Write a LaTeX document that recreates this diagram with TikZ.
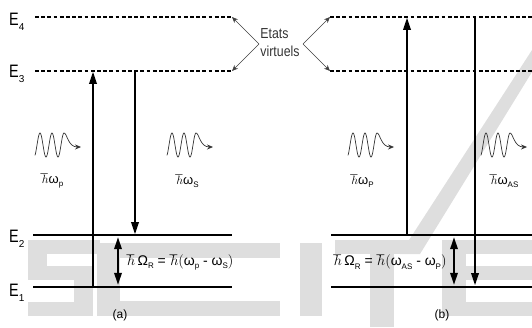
\documentclass[tikz,border=0pt]{standalone}
\usepackage{fontspec}
\setmainfont{Liberation Sans}
\usetikzlibrary{arrows.meta}
\definecolor{wm}{gray}{0.87}
\newcommand{\lo}[1]{\raisebox{-0.45ex}{\fontsize{8}{8}\selectfont #1}}
\newcommand{\elab}[2]{\scalebox{0.8}[1]{\fontsize{18}{18}\selectfont E}\raisebox{-5pt}{\fontsize{10}{10}\selectfont #2}}
\begin{document}
\begin{tikzpicture}[x=1pt,y=-1pt,
  level/.style={line width=2.5pt},
  vlevel/.style={line width=2.5pt, dash pattern=on 3.8pt off 2.4pt},
  trans/.style={line width=1.8pt, -{Triangle[length=12pt,width=7.5pt]}, shorten >=0.8pt},
  dbl/.style={line width=1.8pt, {Triangle[length=12pt,width=7.5pt]}-{Triangle[length=12pt,width=7.5pt]}, shorten >=1.2pt, shorten <=1.2pt},
  pointer/.style={line width=0.6pt, black!75, -{Stealth[length=6pt,width=5pt]}},
  wave/.style={line width=0.7pt, black!80, -{Stealth[length=6pt,width=5pt]}},
  lbl/.style={inner sep=0pt, font=\fontsize{13}{15}\selectfont},
  photon/.pic={\draw[wave] plot[domain=2:31,samples=80,smooth] (\x,{-12*sin(30*(\x-4))}) .. controls (34,-12) and (35,2) .. (48,2);}
]
\useasboundingbox (0,0) rectangle (532,327);
% watermark
\begin{scope}[wm]
\fill (28,240) rectangle (100,254);
\fill (28,240) rectangle (47,280);
\fill (28,266) rectangle (93,280);
\fill (74,266) rectangle (93,316);
\fill (28,302) rectangle (93,316);
\fill (97,243) rectangle (280,258);
\fill (97,243) rectangle (120,316);
\fill (97,301) rectangle (280,316);
\fill (300,243) rectangle (322,316);
\fill (335,240) rectangle (420,254);
\fill (370,254) rectangle (394,327);
\fill (400,254) -- (420,254) -- (532,72) -- (532,50) -- cycle;
\fill (442,240) rectangle (466,316);
\fill (442,240) rectangle (532,254);
\fill (442,266) rectangle (532,280);
\fill (442,302) rectangle (532,316);
\end{scope}
% level labels
\node[inner sep=0pt, anchor=base west] (e4) at (9,25) {\elab{E}{4}};
\node[inner sep=0pt, anchor=base west] (e3) at (9,77) {\elab{E}{3}};
\node[inner sep=0pt, anchor=base west] (e2) at (9,242) {\elab{E}{2}};
\node[inner sep=0pt, anchor=base west] (e1) at (9,296) {\elab{E}{1}};
% level coordinates
\coordinate (l4a) at (35,17);  \coordinate (l4b) at (232,17);
\coordinate (l3a) at (35,71);  \coordinate (l3b) at (232,71);
\coordinate (l2a) at (33,235); \coordinate (l2b) at (232,235);
\coordinate (l1a) at (33,287); \coordinate (l1b) at (232,287);
\coordinate (r4a) at (330,17);  \coordinate (r4b) at (532,17);
\coordinate (r3a) at (330,71);  \coordinate (r3b) at (532,71);
\coordinate (r2a) at (331,235); \coordinate (r2b) at (532,235);
\coordinate (r1a) at (331,287); \coordinate (r1b) at (532,287);
\draw[vlevel] (l4a) -- (l4b);
\draw[vlevel] (l3a) -- (l3b);
\draw[level] (l2a) -- (l2b);
\draw[level] (l1a) -- (l1b);
\draw[vlevel] (r4a) -- (r4b);
\draw[vlevel] (r3a) -- (r3b);
\draw[level] (r2a) -- (r2b);
\draw[level] (r1a) -- (r1b);
% virtual states label
\node[inner sep=0pt, align=left, text=black!80, font=\fontsize{14.5}{18}\selectfont, xscale=0.85] (virt) at (280,43) {Etats\\virtuels};
\coordinate (vl) at (259,44); \coordinate (vr) at (303,44);
\draw[pointer] (vl) -- (l4b);
\draw[pointer] (vl) -- (l3b);
\draw[pointer] (vr) -- (r4a);
\draw[pointer] (vr) -- (r3a);
% transitions (a)
\coordinate (a1s) at (93,287); \coordinate (a1e) at (93,71);
\coordinate (a2s) at (135,71); \coordinate (a2e) at (135,235);
\coordinate (a3s) at (118,236); \coordinate (a3e) at (118,286);
\draw[trans] (a1s) -- (a1e);
\draw[trans] (a2s) -- (a2e);
\draw[dbl] (a3s) -- (a3e);
% transitions (b)
\coordinate (b1s) at (407,235); \coordinate (b1e) at (407,17);
\coordinate (b2s) at (475,17); \coordinate (b2e) at (475,286);
\coordinate (b3s) at (454,236); \coordinate (b3e) at (454,286);
\draw[trans] (b1s) -- (b1e);
\draw[trans] (b2s) -- (b2e);
\draw[dbl] (b3s) -- (b3e);
% photons
\pic at (33,145) {photon};
\pic at (165,145) {photon};
\pic at (346,145) {photon};
\pic at (479,145) {photon};
\node[lbl] (pa) at (52,181) {$\hbar$ω\lo{p}};
\node[lbl] (sa) at (187,181) {$\hbar$ω\lo{S}};
\node[lbl] (pb) at (362,181) {$\hbar$ω\lo{P}};
\node[lbl] (sb) at (504,181) {$\hbar$ω\lo{AS}};
% Raman formulae
\node[inner sep=0pt, font=\fontsize{14}{16}\selectfont] (fa) at (180,262) {$\hbar$\,Ω\lo{R} = $\hbar\Bigl($ω\lo{p} - ω\lo{S}$\Bigr)$};
\node[inner sep=0pt, font=\fontsize{14}{16}\selectfont] (fb) at (390,262) {$\hbar$\,Ω\lo{R} = $\hbar\Bigl($ω\lo{AS} - ω\lo{P}$\Bigr)$};
% panel labels
\node[inner sep=0pt, font=\fontsize{12}{14}\selectfont] (capa) at (120,315) {(a)};
\node[inner sep=0pt, font=\fontsize{12}{14}\selectfont] (capb) at (442,315) {(b)};
\end{tikzpicture}
\end{document}
